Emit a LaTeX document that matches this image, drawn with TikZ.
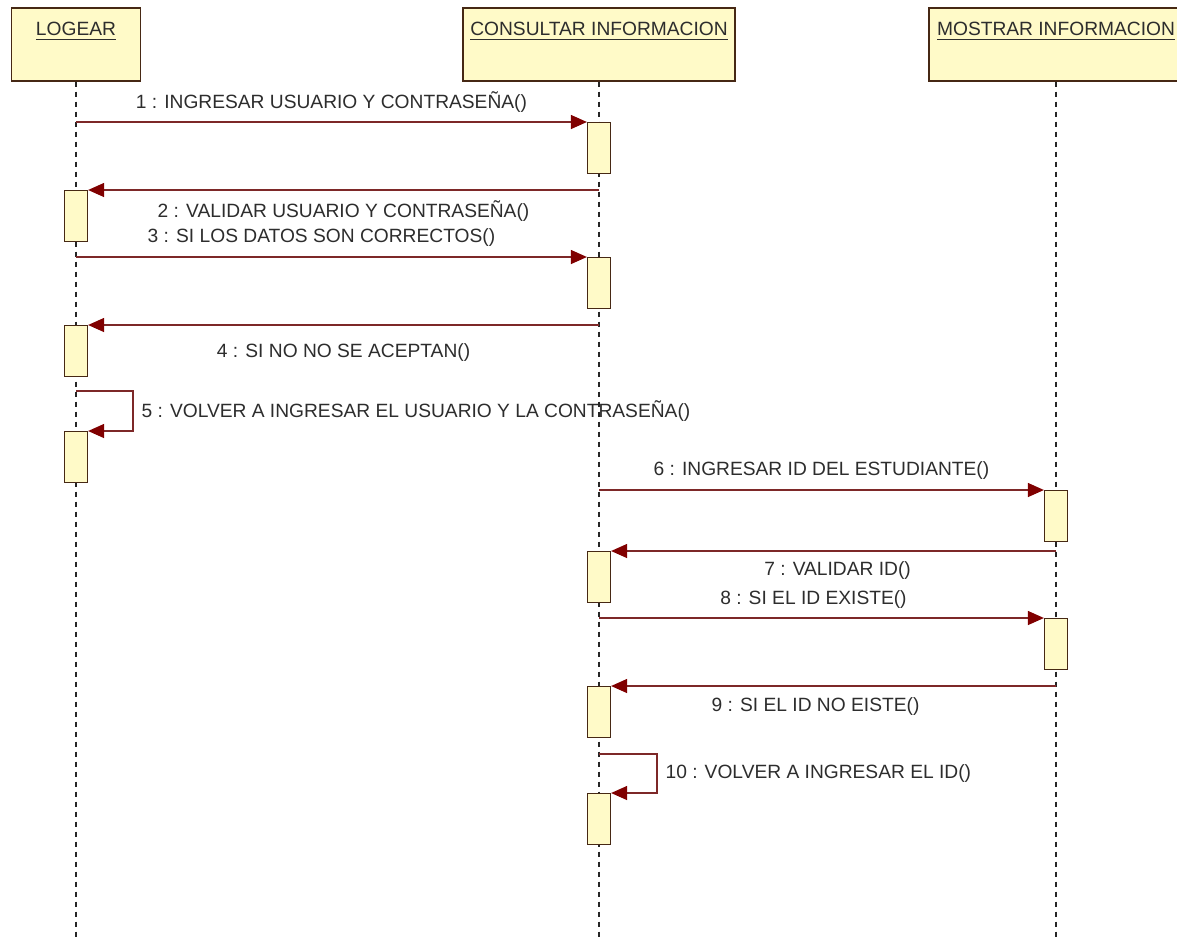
\documentclass[tikz,border=0pt]{standalone}
\usepackage{fontspec}
\setmainfont{Liberation Sans}
\usetikzlibrary{arrows.meta, positioning, calc}
\definecolor{headfill}{RGB}{255,250,200}
\definecolor{headline}{RGB}{70,40,20}
\definecolor{msgred}{RGB}{128,0,0}
\definecolor{msgline}{RGB}{125,40,40}
\definecolor{txtgray}{RGB}{45,45,45}

\begin{document}
\begin{tikzpicture}[x=0.5pt, y=-0.5pt, font=\fontsize{9.6}{11}\selectfont,
  head/.style={draw=headline, fill=headfill, line width=0.7pt, minimum height=36.5pt, inner sep=0pt},
  actbar/.style={draw=headline, fill=headfill, line width=0.6pt, minimum width=11.5pt, minimum height=25.5pt, anchor=north, inner sep=0pt},
  life/.style={draw=black!85, line width=0.75pt, dash pattern=on 2.5pt off 2.5pt},
  msg/.style={draw=msgline, line width=0.6pt, -{Triangle[length=8pt, width=7pt, color=msgred]}},
  lbl/.style={text=txtgray, inner sep=0pt}]
  \clip (0,0) rectangle (1177,938);
  \fill[white] (0,0) rectangle (1177,938);

  % objects
  \node[head, minimum width=64.5pt] (logear) at (76,44.5) {};
  \node[head, minimum width=136pt] (consultar) at (599,44.5) {};
  \node[head, minimum width=127pt] (mostrar) at (1056,44.5) {};
  \node[lbl] (tlogear) at ([yshift=-12pt]logear.north) {\underline{LOGEAR}};
  \node[lbl] (tconsultar) at ([yshift=-12pt]consultar.north) {\underline{CONSULTAR INFORMACION}};
  \node[lbl] (tmostrar) at ([yshift=-12pt]mostrar.north) {\underline{MOSTRAR INFORMACION}};

  % lifelines
  \coordinate (bottom) at (0,940);
  \foreach \who in {logear, consultar, mostrar}
    \draw[life] (\who.south) -- (\who.south |- bottom);

  % activations
  \foreach \name/\who/\top in {b1/consultar/122, b2/logear/190, b3/consultar/257, b4/logear/325,
      b5/logear/431, b6/mostrar/490, b7/consultar/551, b8/mostrar/618, b9/consultar/686, b10/consultar/793} {
    \coordinate (t\name) at (0,\top);
    \node[actbar] (\name) at (\who.south |- t\name) {};
  }

  % messages
  \foreach \n/\from/\act/\tip/\dx/\dy/\txt in {
      1/logear/b1/north west/0pt/10pt/{1 : INGRESAR USUARIO Y CONTRASEÑA()},
      2/consultar/b2/north east/0pt/-10.5pt/{2 : VALIDAR USUARIO Y CONTRASEÑA()},
      3/logear/b3/north west/-5pt/9.5pt/{3 : SI LOS DATOS SON CORRECTOS()},
      4/consultar/b4/north east/0pt/-14pt/{4 : SI NO NO SE ACEPTAN()},
      6/consultar/b6/north west/0pt/9.5pt/{6 : INGRESAR ID DEL ESTUDIANTE()},
      7/mostrar/b7/north east/2pt/-10pt/{7 : VALIDAR ID()},
      8/consultar/b8/north west/-4pt/9pt/{8 : SI EL ID EXISTE()},
      9/mostrar/b9/north east/-9pt/-10.5pt/{9 : SI EL ID NO EISTE()}}
    \draw[msg] (\from.south |- \act.north) -- (\act.\tip) node[lbl, midway, xshift=\dx, yshift=\dy] (l\n) {\txt};

  % self calls
  \coordinate (k5) at (133,391);
  \draw[msg] (logear.south |- k5) -- (k5) |- (b5.north east)
    node[lbl, pos=0.25, right=4pt] (l5) {5 : VOLVER A INGRESAR EL USUARIO Y LA CONTRASEÑA()};
  \coordinate (k10) at (657,754);
  \draw[msg] (consultar.south |- k10) -- (k10) |- (b10.north east)
    node[lbl, pos=0.25, right=4pt] (l10) {10 : VOLVER A INGRESAR EL ID()};
\end{tikzpicture}
\end{document}
